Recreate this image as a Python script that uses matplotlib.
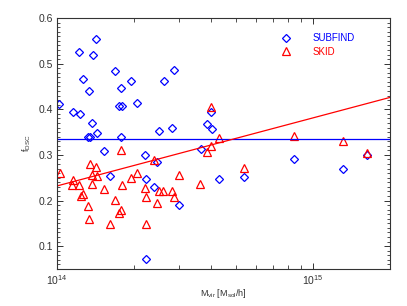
import numpy as np
import matplotlib
matplotlib.use("Agg")
import matplotlib.pyplot as plt
from matplotlib.ticker import LogLocator, MultipleLocator, NullFormatter

plt.rcParams['font.family'] = ['Liberation Sans', 'DejaVu Sans']
plt.rcParams['mathtext.fontset'] = 'custom'
plt.rcParams['mathtext.rm'] = 'Liberation Sans'

# log10(M_vir) and f_DSC
subfind_logm = [14.152, 14.087, 14.139, 14.228, 14.458, 14.103, 14.289, 14.419, 14.126, 14.251,
                14.009, 14.241, 14.255, 14.313, 14.061, 14.091, 14.137, 14.155, 14.397, 14.122,
                14.129, 14.251, 14.450, 14.602, 14.586, 14.604, 14.185, 14.345, 14.389, 14.561,
                14.206, 14.346, 14.379, 14.478, 14.634, 14.730, 14.927, 15.116, 15.212, 14.348]
subfind_f = [0.555, 0.525, 0.520, 0.484, 0.486, 0.466, 0.462, 0.462, 0.441, 0.446,
             0.412, 0.408, 0.408, 0.414, 0.393, 0.389, 0.371, 0.349, 0.352, 0.340,
             0.340, 0.340, 0.358, 0.394, 0.367, 0.356, 0.308, 0.300, 0.285, 0.313,
             0.254, 0.248, 0.229, 0.190, 0.247, 0.251, 0.291, 0.270, 0.300, 0.073]

skid_logm = [14.602, 14.634, 14.927, 15.116, 15.212, 14.602, 14.586, 14.730, 14.478, 14.560,
             14.450, 14.458, 14.251, 14.380, 14.012, 14.128, 14.152, 14.138, 14.155, 14.064,
             14.060, 14.086, 14.135, 14.290, 14.313, 14.345, 14.397, 14.416, 14.185, 14.254,
             14.348, 14.389, 14.103, 14.093, 14.228, 14.121, 14.251, 14.242, 14.126, 14.206,
             14.348]
skid_f = [0.404, 0.338, 0.341, 0.331, 0.305, 0.319, 0.307, 0.272, 0.256, 0.237,
          0.221, 0.207, 0.310, 0.288, 0.261, 0.279, 0.273, 0.257, 0.254, 0.245,
          0.235, 0.233, 0.237, 0.250, 0.260, 0.227, 0.221, 0.221, 0.225, 0.233,
          0.208, 0.195, 0.214, 0.209, 0.201, 0.188, 0.180, 0.172, 0.159, 0.148,
          0.148]

subfind_level = 0.335          # horizontal blue line
skid_fit_mass = [1e14, 2e15]   # red fit line ends
skid_fit_f = [0.232, 0.426]

blue = "#0000ff"
red = "#ff0000"
ink = "#333333"

fig = plt.figure(figsize=(4.07, 3.06), dpi=100)
ax = fig.add_axes([57 / 407, 1 - 269 / 306, 333 / 407, 251 / 306])

ax.plot(10 ** np.array(subfind_logm), subfind_f, linestyle="none", marker="D",
        markersize=3.8, mfc="none", mec=blue, mew=0.9, label="SUBFIND")
ax.plot(10 ** np.array(skid_logm), skid_f, linestyle="none", marker="^",
        markersize=5.2, mfc="none", mec=red, mew=0.9, label="SKID")

ax.axhline(subfind_level, color=blue, lw=0.9)
ax.plot(skid_fit_mass, skid_fit_f, color=red, lw=0.9)

ax.set_xscale("log")
ax.set_xlim(1e14, 2e15)
ax.set_ylim(0.05, 0.6)

ax.xaxis.set_major_locator(LogLocator(base=10))
ax.xaxis.set_minor_locator(LogLocator(base=10, subs=np.arange(2, 10)))
ax.xaxis.set_minor_formatter(NullFormatter())
ax.yaxis.set_major_locator(MultipleLocator(0.1))
ax.yaxis.set_minor_locator(MultipleLocator(0.01))

ax.tick_params(which="both", direction="in", top=True, right=True, labelsize=7.5, colors=ink)
ax.tick_params(axis="x", which="major", length=4.5, width=0.7, pad=3)
ax.tick_params(axis="x", which="minor", length=3, width=0.6)
ax.tick_params(axis="y", which="major", length=4, width=0.7, pad=3)
ax.tick_params(axis="y", which="minor", length=2, width=0.6)
for s in ax.spines.values():
    s.set_linewidth(0.8)
    s.set_color(ink)

ax.set_xlabel(r"M$_{\rm vir}$ [M$_{\rm sol}$/h]", fontsize=6.5, labelpad=0, color=ink)
ax.set_ylabel(r"f$_{\rm DSC}$", fontsize=6.5, labelpad=4, color=ink)

leg = ax.legend(loc="upper left", bbox_to_anchor=(0.66, 0.955), frameon=False,
                fontsize=7, handlelength=1.0, handletextpad=2.3, labelspacing=0.35,
                borderaxespad=0)
for txt, c in zip(leg.get_texts(), [blue, red]):
    txt.set_color(c)

fig.savefig("out.png", dpi=100)
